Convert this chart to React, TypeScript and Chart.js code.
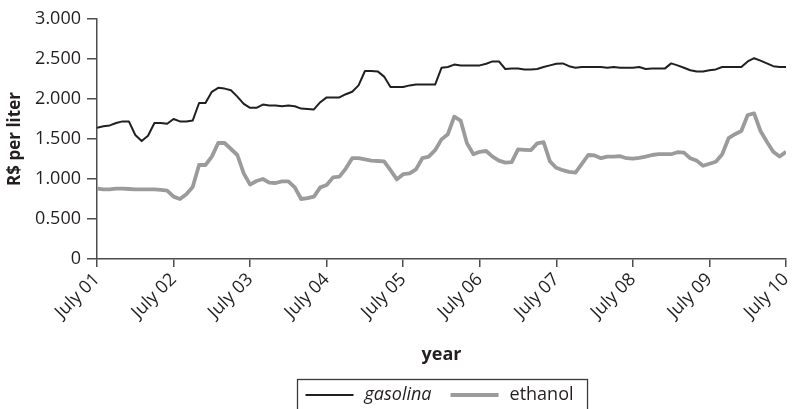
import React, { useEffect, useRef } from 'react';
import { Chart, registerables } from 'chart.js';

Chart.register(...registerables);

const yearLabels = ['July 01', 'July 02', 'July 03', 'July 04', 'July 05', 'July 06', 'July 07', 'July 08', 'July 09', 'July 10'];

const gasolina = [
  1.64, 1.66, 1.67, 1.70, 1.72, 1.72, 1.55, 1.475, 1.54, 1.70, 1.70, 1.69,
  1.75, 1.72, 1.72, 1.73, 1.95, 1.95, 2.09, 2.14, 2.13, 2.11, 2.03, 1.94,
  1.89, 1.89, 1.93, 1.92, 1.92, 1.91, 1.92, 1.91, 1.88, 1.875, 1.87, 1.96,
  2.02, 2.02, 2.02, 2.06, 2.09, 2.17, 2.35, 2.35, 2.345, 2.28, 2.15, 2.15,
  2.15, 2.17, 2.18, 2.18, 2.18, 2.18, 2.39, 2.40, 2.43, 2.42, 2.42, 2.42,
  2.42, 2.44, 2.47, 2.47, 2.375, 2.38, 2.38, 2.37, 2.37, 2.375, 2.40, 2.42,
  2.44, 2.445, 2.41, 2.39, 2.40, 2.40, 2.40, 2.40, 2.39, 2.40, 2.39, 2.39,
  2.39, 2.40, 2.375, 2.38, 2.38, 2.38, 2.445, 2.42, 2.39, 2.36, 2.345, 2.345,
  2.36, 2.37, 2.40, 2.40, 2.40, 2.40, 2.47, 2.51, 2.48, 2.445, 2.41, 2.40,
  2.40,
];

const ethanol = [
  0.88, 0.87, 0.87, 0.88, 0.88, 0.875, 0.87, 0.87, 0.87, 0.87, 0.865, 0.855,
  0.78, 0.75, 0.81, 0.90, 1.175, 1.175, 1.28, 1.45, 1.45, 1.375, 1.30, 1.07,
  0.93, 0.975, 1.00, 0.955, 0.95, 0.97, 0.97, 0.895, 0.75, 0.76, 0.78, 0.895,
  0.925, 1.02, 1.03, 1.13, 1.26, 1.26, 1.245, 1.23, 1.225, 1.22, 1.11, 0.995,
  1.06, 1.07, 1.12, 1.26, 1.28, 1.36, 1.495, 1.56, 1.78, 1.73, 1.445, 1.31,
  1.34, 1.35, 1.28, 1.23, 1.205, 1.21, 1.37, 1.365, 1.36, 1.445, 1.46, 1.22,
  1.14, 1.11, 1.09, 1.08, 1.19, 1.30, 1.295, 1.26, 1.28, 1.28, 1.285, 1.26,
  1.255, 1.265, 1.28, 1.30, 1.31, 1.31, 1.31, 1.335, 1.33, 1.26, 1.23, 1.165,
  1.19, 1.215, 1.31, 1.51, 1.56, 1.60, 1.80, 1.82, 1.60, 1.465, 1.34, 1.28,
  1.34,
];

const seriesNames = ['gasolina', 'ethanol'];
const MONTHS_PER_YEAR = 12;

const FAMILY = '"Open Sans", sans-serif';
const TEXT = '#231f20';
const AXIS = '#4d4d4f';
const GAS_COLOR = '#231f20';
const ETH_COLOR = '#9b9b9b';

const boxLegend = {
  id: 'boxLegend',
  afterDraw(chart: any) {
    const ctx = chart.ctx as CanvasRenderingContext2D;
    const area = chart.chartArea;
    const cx = (area.left + area.right) / 2;
    ctx.save();
    const fontI = `italic 18px ${FAMILY}`;
    const fontN = `18px ${FAMILY}`;
    ctx.font = fontI;
    const w1 = ctx.measureText(seriesNames[0]).width;
    ctx.font = fontN;
    const w2 = ctx.measureText(seriesNames[1]).width;
    const lineLen = 48, gapLT = 11, gapItems = 19, padL = 8, padR = 14;
    const total = padL + lineLen + gapLT + w1 + gapItems + lineLen + gapLT + w2 + padR;
    const left = Math.round(cx - total / 2 + 1) + 0.5;
    const top = 379.5;
    const y = 395;
    ctx.strokeStyle = '#3a3a3a';
    ctx.lineWidth = 1.3;
    ctx.strokeRect(left, top, total, 60);
    let x = left + padL;
    ctx.strokeStyle = GAS_COLOR;
    ctx.lineWidth = 2;
    ctx.beginPath();
    ctx.moveTo(x, y);
    ctx.lineTo(x + lineLen, y);
    ctx.stroke();
    x += lineLen + gapLT;
    ctx.fillStyle = TEXT;
    ctx.textBaseline = 'middle';
    ctx.textAlign = 'left';
    ctx.font = fontI;
    ctx.fillText(seriesNames[0], x, y);
    x += w1 + gapItems;
    ctx.strokeStyle = ETH_COLOR;
    ctx.lineWidth = 4;
    ctx.beginPath();
    ctx.moveTo(x, y);
    ctx.lineTo(x + lineLen, y);
    ctx.stroke();
    x += lineLen + gapLT;
    ctx.font = fontN;
    ctx.fillText(seriesNames[1], x, y);
    ctx.restore();
  },
};

export default function App() {
  const canvasRef = useRef<HTMLCanvasElement | null>(null);

  useEffect(() => {
    if (!canvasRef.current) return;
    const chart = new Chart(canvasRef.current, {
      type: 'line',
      data: {
        datasets: [
          {
            label: seriesNames[0],
            data: gasolina.map((v, i) => ({ x: i, y: v })),
            borderColor: GAS_COLOR,
            borderWidth: 2,
            pointRadius: 0,
            borderJoinStyle: 'round',
            fill: false,
            tension: 0,
          },
          {
            label: seriesNames[1],
            data: ethanol.map((v, i) => ({ x: i, y: v })),
            borderColor: ETH_COLOR,
            borderWidth: 3.8,
            pointRadius: 0,
            borderJoinStyle: 'round',
            fill: false,
            tension: 0,
          },
        ],
      },
      options: {
        animation: false,
        responsive: false,
        layout: { padding: { top: 19, right: 10, left: 0, bottom: 0 } },
        plugins: { legend: { display: false }, tooltip: { enabled: false } },
        scales: {
          x: {
            type: 'linear',
            min: 0,
            max: (yearLabels.length - 1) * MONTHS_PER_YEAR,
            afterFit: (s: any) => {
              s.height = 150;
              s.paddingRight = 0;
              s.paddingLeft = 0;
            },
            afterBuildTicks: (s: any) => {
              s.ticks = yearLabels.map((_, i) => ({ value: i * MONTHS_PER_YEAR }));
            },
            ticks: {
              autoSkip: false,
              minRotation: 45,
              maxRotation: 45,
              padding: 2,
              color: TEXT,
              font: { family: FAMILY, size: 18 },
              callback: (v: any) => yearLabels[Math.round(Number(v) / MONTHS_PER_YEAR)],
            },
            grid: { drawOnChartArea: false, drawTicks: true, tickLength: 8, color: AXIS, lineWidth: 1.5 },
            border: { display: true, color: AXIS, width: 1.5 },
            title: {
              display: true,
              text: 'year',
              color: TEXT,
              font: { family: FAMILY, size: 18, weight: 'bold' },
              padding: { top: 0, bottom: 43 },
            },
          },
          y: {
            min: 0,
            max: 3,
            afterFit: (s: any) => { s.width = 97; },
            ticks: {
              stepSize: 0.5,
              padding: 6,
              color: TEXT,
              font: { family: FAMILY, size: 18 },
              callback: (v: any) => (Number(v) === 0 ? '0' : Number(v).toFixed(3)),
            },
            grid: { drawOnChartArea: false, drawTicks: true, tickLength: 10, color: AXIS, lineWidth: 1.5 },
            border: { display: true, color: AXIS, width: 1.5 },
            title: {
              display: true,
              text: 'R$ per liter',
              color: TEXT,
              font: { family: FAMILY, size: 17, weight: 'bold' },
              padding: { top: 5, bottom: 0 },
            },
          },
        },
      } as any,
      plugins: [boxLegend],
    });
    return () => chart.destroy();
  }, []);

  return (
    <div style={{ position: 'absolute', left: 0, top: 0, width: 796, height: 409, overflow: 'hidden', background: '#fff' }}>
      <canvas ref={canvasRef} width={796} height={409} style={{ display: 'block', width: 796, height: 409 }} />
    </div>
  );
}
